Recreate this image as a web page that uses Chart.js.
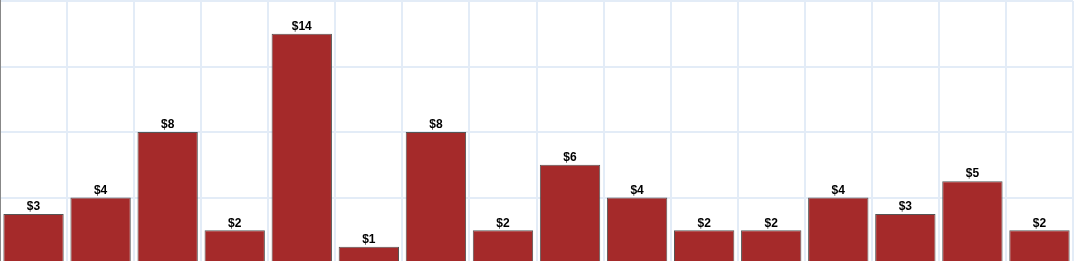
<!DOCTYPE html>
<html lang="en">
<head>
  <meta charset="UTF-8" />
  <title>Bar chart</title>
  <script src="https://cdn.jsdelivr.net/npm/chart.js"></script>
  <style>
    html, body { margin: 0; padding: 0; overflow: hidden; background: #fff; }
    #wrap { width: 1079px; height: 263px; }
  </style>
</head>
<body>
  <div id="wrap"><canvas id="barChart"></canvas></div>

  <script>
    // data
    const categories = ['1','2','3','4','5','6','7','8','9','10','11','12','13','14','15','16'];
    const amounts = [3, 4, 8, 2, 14, 1, 8, 2, 6, 4, 2, 2, 4, 3, 5, 2];
    const yTicks = [0, 4, 8, 12, 16];

    // value labels above each bar
    const valueLabels = {
      id: 'valueLabels',
      afterDatasetsDraw(chart) {
        const ctx = chart.ctx;
        const meta = chart.getDatasetMeta(0);
        ctx.save();
        ctx.font = 'bold 12px "Liberation Sans", Arial, sans-serif';
        ctx.fillStyle = '#000';
        ctx.textAlign = 'center';
        ctx.textBaseline = 'bottom';
        meta.data.forEach((bar, i) => {
          ctx.fillText('$' + amounts[i], bar.x, bar.y - 1);
        });
        ctx.restore();
      }
    };

    new Chart(document.getElementById('barChart'), {
      type: 'bar',
      data: {
        labels: categories,
        datasets: [{
          data: amounts,
          backgroundColor: '#a52a2a',
          borderColor: '#555',
          borderWidth: 1,
          barPercentage: 0.9,
          categoryPercentage: 1
        }]
      },
      options: {
        responsive: true,
        maintainAspectRatio: false,
        animation: false,
        layout: { padding: { left: 0, top: 1, right: 6, bottom: 0 } },
        plugins: {
          legend: { display: false },
          tooltip: { enabled: false }
        },
        scales: {
          x: {
            ticks: { display: false },
            grid: { color: '#e3ecf7', lineWidth: 2, drawTicks: false, offset: true },
            border: { display: false }
          },
          y: {
            min: 0,
            max: 16,
            afterBuildTicks(axis) { axis.ticks = yTicks.map(v => ({ value: v })); },
            ticks: { display: false },
            grid: { color: '#e3ecf7', lineWidth: 2, drawTicks: false },
            border: { color: '#888', width: 2 }
          }
        }
      },
      plugins: [valueLabels]
    });
  </script>
</body>
</html>
